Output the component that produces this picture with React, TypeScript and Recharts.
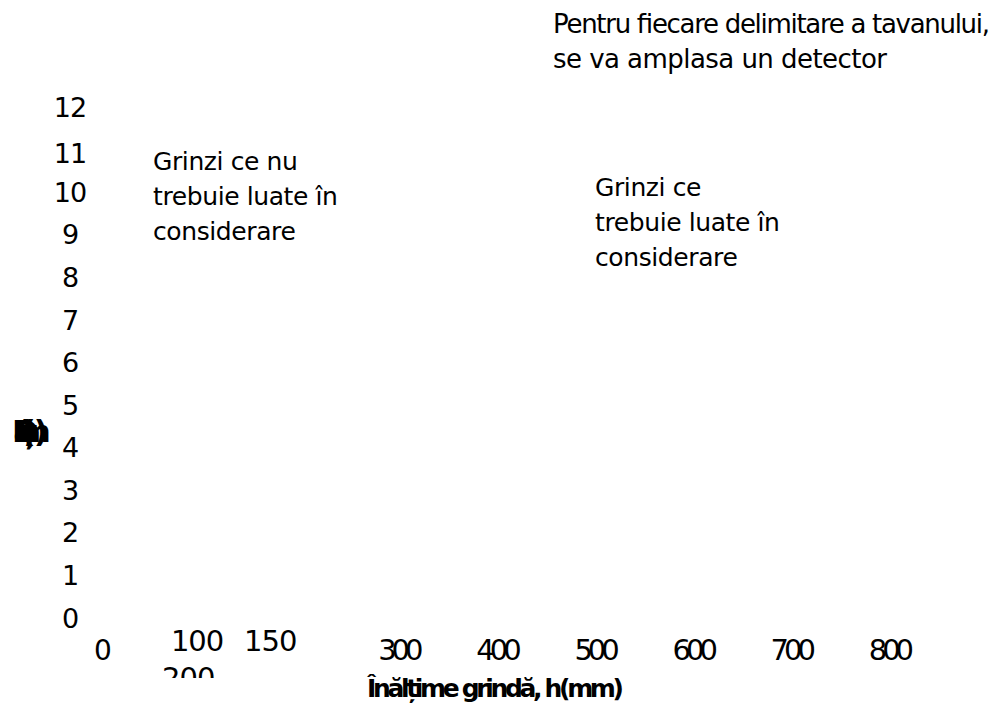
import React from "react";
import { Scatter, ScatterChart, XAxis, YAxis } from "recharts";

// tick labels
const xTicks = [0, 100, 150, 200, 300, 400, 500, 600, 700, 800];
const yTicks = [0, 1, 2, 3, 4, 5, 6, 7, 8, 9, 10, 11, 12];

const xTitle = "Înălțime grindă, h(mm)";
const yTitle = "Distanța, D(m)";

const topNote = ["Pentru fiecare delimitare a tavanului,", "se va amplasa un detector"];
const leftNote = ["Grinzi ce nu", "trebuie luate în", "considerare"];
const rightNote = ["Grinzi ce", "trebuie luate în", "considerare"];

// no marks in this chart, only an empty series to hold the axes
const points: { x: number; y: number }[] = [];

const FONT = "DejaVu Sans";

// the first few x labels are drawn out of place in the original
const xTickStyle: Record<number, { dx: number; dy: number; size: number; ls: number }> = {
  0: { dx: 0, dy: 32, size: 28, ls: 0 },
  100: { dx: -4, dy: 23, size: 29, ls: -1 },
  150: { dx: 20, dy: 23, size: 29, ls: -1 },
  200: { dx: -111, dy: 60, size: 29, ls: -1 },
};

const XTick = (props: any) => {
  const { x, y, payload } = props;
  const s = xTickStyle[payload.value] || { dx: 1, dy: 32, size: 29, ls: -5 };
  return (
    <g>
      <defs>
        <clipPath id={`xclip-${payload.value}`}>
          <rect x={0} y={0} width={999} height={678} />
        </clipPath>
      </defs>
      <text
        x={x + s.dx}
        y={y + s.dy}
        dy="0.355em"
        textAnchor="middle"
        fontFamily={FONT}
        fontSize={s.size}
        letterSpacing={s.ls}
        fill="#000"
        clipPath={`url(#xclip-${payload.value})`}
      >
        {payload.value}
      </text>
    </g>
  );
};

const YTick = (props: any) => {
  const { x, y, payload } = props;
  return (
    <text
      x={x - 33}
      y={y + (payload.value === 11 ? 4 : 0)}
      dy="0.355em"
      textAnchor="middle"
      fontFamily={FONT}
      fontSize={27}
      letterSpacing={-1}
      fill="#000"
    >
      {payload.value}
    </text>
  );
};

const Note = ({ lines, x, y, step, ls }: { lines: string[]; x: number; y: number; step: number; ls: number }) => (
  <text x={x} y={y} fontFamily={FONT} fontSize={25} letterSpacing={ls} fill="#000">
    {lines.map((l, i) => (
      <tspan key={i} x={x} y={y + i * step}>
        {l}
      </tspan>
    ))}
  </text>
);

export default function App() {
  return (
    <div style={{ position: "absolute", left: 0, top: 0, background: "#fff" }}>
      <ScatterChart
        width={999}
        height={706}
        margin={{ top: 107, right: 13, left: 0, bottom: 0 }}
      >
        <XAxis
          type="number"
          dataKey="x"
          domain={[0, 900]}
          allowDataOverflow
          ticks={xTicks}
          interval={0}
          axisLine={false}
          tickLine={false}
          tickSize={0}
          tickMargin={0}
          height={88}
          tick={<XTick />}
        />
        <YAxis
          type="number"
          dataKey="y"
          domain={[0, 12]}
          allowDataOverflow
          ticks={yTicks}
          interval={0}
          axisLine={false}
          tickLine={false}
          tickSize={0}
          tickMargin={0}
          width={103}
          tick={<YTick />}
        />
        <Scatter data={points} isAnimationActive={false} />
        <text
          x={367}
          y={697}
          fontFamily={FONT}
          fontWeight="bold"
          fontSize={25}
          textLength={257}
          lengthAdjust="spacing"
          fill="#000"
        >
          {xTitle}
        </text>
        <text
          x={12}
          y={442}
          fontFamily={FONT}
          fontWeight="bold"
          fontSize={31}
          textLength={36}
          lengthAdjust="spacing"
          fill="#000"
        >
          {yTitle}
        </text>
        <text x={553} y={33} fontFamily={FONT} fontSize={26} fill="#000" textLength={437} lengthAdjust="spacing">
          {topNote[0]}
        </text>
        <text x={553} y={68} fontFamily={FONT} fontSize={26} fill="#000" textLength={334} lengthAdjust="spacing">
          {topNote[1]}
        </text>
        <Note lines={leftNote} x={153} y={170} step={35} ls={-0.4} />
        <Note lines={rightNote} x={595} y={196} step={35} ls={-0.4} />
      </ScatterChart>
    </div>
  );
}
